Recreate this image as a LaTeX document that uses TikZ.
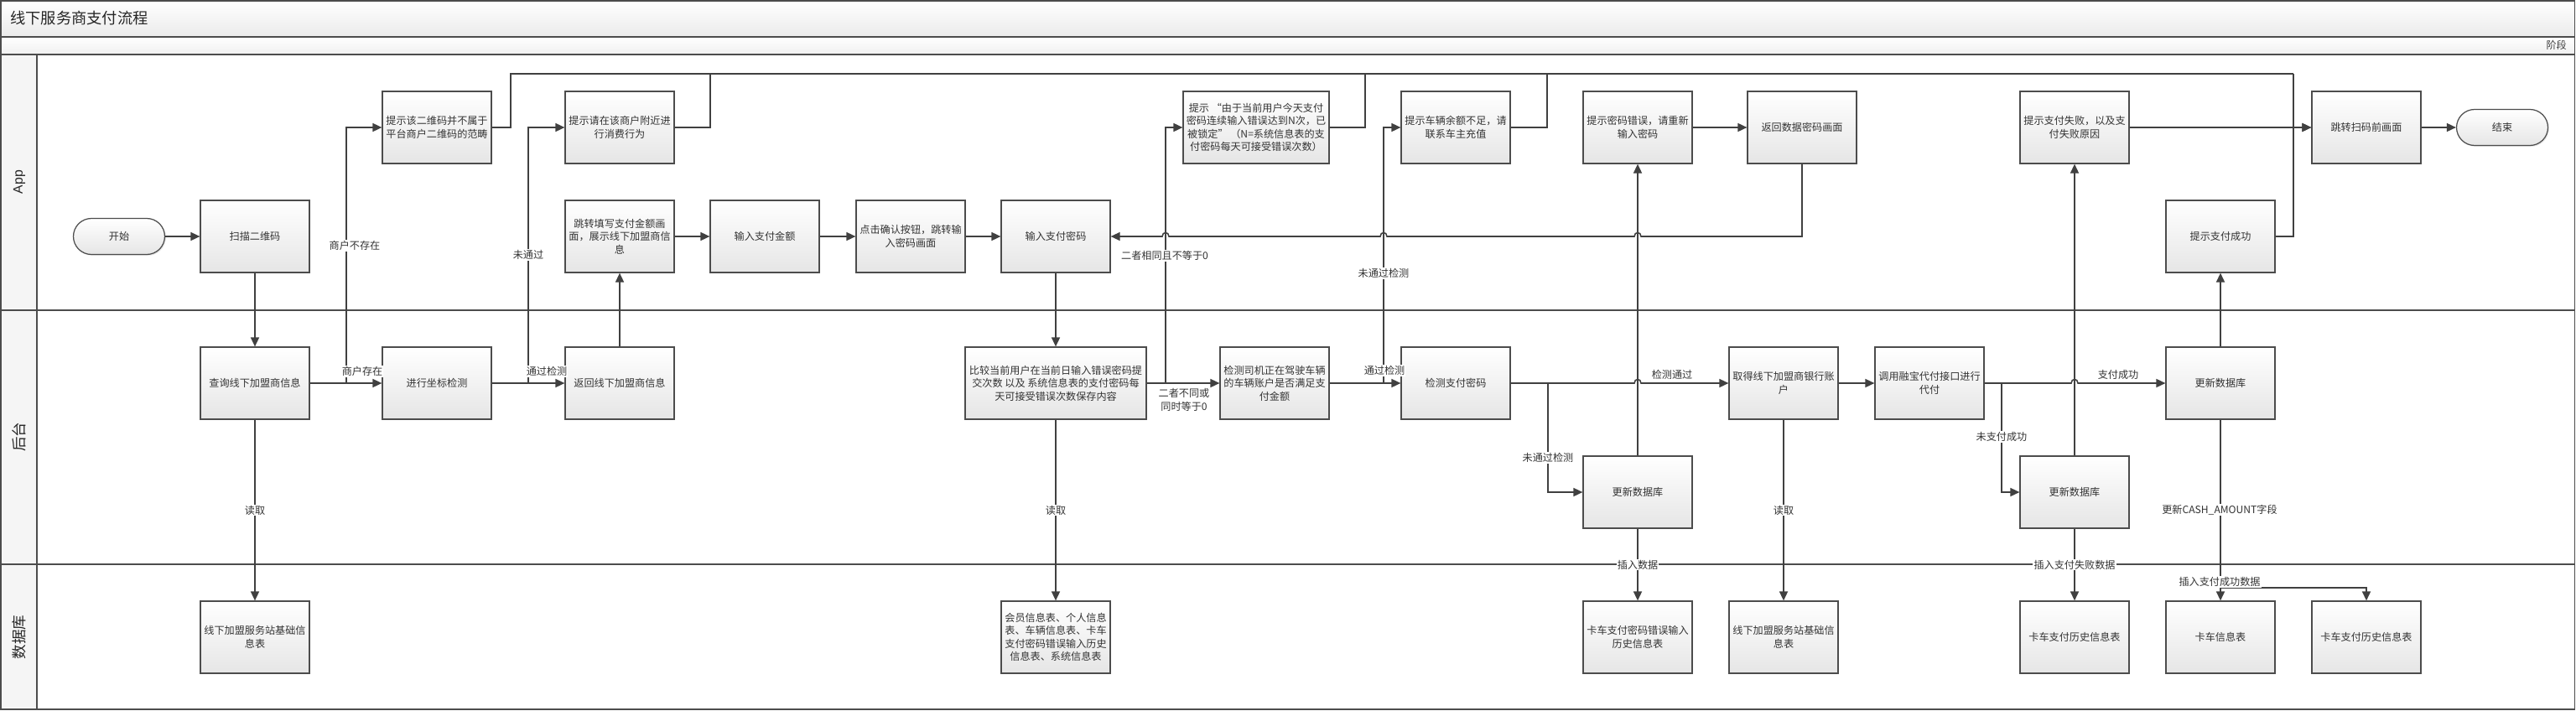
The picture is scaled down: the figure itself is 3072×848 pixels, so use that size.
\documentclass[tikz,border=0pt]{standalone}
\usepackage{fontspec}
\setmainfont{Noto Sans CJK SC}
\newfontfamily\lanesans{Liberation Sans}
\usetikzlibrary{arrows.meta,shadows}
\newcommand{\bxfont}{\fontsize{6.9pt}{8.8pt}\selectfont}
\tikzset{
	procbox/.style={draw=black!70, line width=0.7pt, top color=white, bottom color=black!10, text=black!80,
		minimum width=2.6cm, minimum height=1.72cm, align=center, inner sep=1pt, font=\bxfont,
		drop shadow={opacity=0.2, shadow xshift=0.8pt, shadow yshift=-0.8pt}},
	termbox/.style={procbox, rounded corners=0.43cm, minimum width=2.18cm, minimum height=0.86cm},
	flow/.style={draw=black!75, line width=0.9pt, -{Triangle[length=0.22cm, width=0.2cm]}},
	plain/.style={draw=black!75, line width=0.9pt},
	lbl/.style={fill=white, inner sep=0.6pt, text=black!80, font=\bxfont, align=center},
	lane/.style={draw=black!70, line width=0.6pt},
	hopr/.style args={#1/#2}{insert path={-- (#1-4,#2) .. controls (#1-4,#2-6) and (#1+4,#2-6) .. (#1+4,#2)}},
	hopl/.style args={#1/#2}{insert path={-- (#1+4,#2) .. controls (#1+4,#2-6) and (#1-4,#2-6) .. (#1-4,#2)}}
}

\begin{document}
\begin{tikzpicture}[x=0.02cm, y=-0.02cm]
	\useasboundingbox (0,0) rectangle (3072,848);
	% frame and lanes
	\shade[top color=white, bottom color=black!8] (1,1) rectangle (3070,44);
	\shade[top color=white, bottom color=black!6] (1,44) rectangle (3070,65);
	\fill[black!4] (1,65) rectangle (44,846);
	\draw[lane] (1,1) rectangle (3070,846);
	\draw[lane] (1,44) -- (3070,44);
	\draw[lane] (1,65) -- (3070,65);
	\draw[lane] (1,370) -- (3070,370);
	\draw[lane] (1,673) -- (3070,673);
	\draw[lane] (44,65) -- (44,846);
	\node[anchor=west, text=black!85, font=\fontsize{10.4pt}{12pt}\selectfont] (title) at (6,22) {线下服务商支付流程};
	\node[anchor=east, text=black!75, font=\bxfont] (phase) at (3067,54) {阶段};
	\node[rotate=90, text=black!85, font=\lanesans\fontsize{9pt}{10pt}\selectfont] (laneapp) at (23,217) {App};
	\node[rotate=90, text=black!85, font=\fontsize{10pt}{12pt}\selectfont] (laneback) at (23,521) {后台};
	\node[rotate=90, text=black!85, font=\fontsize{10pt}{12pt}\selectfont] (lanedb) at (23,760) {数据库};

	% App
	\node[termbox] (start) at (142,282) {开始};
	\node[procbox] (scan) at (304,282) {扫描二维码};
	\node[procbox] (notplat) at (521,152) {提示该二维码并不属于\\平台商户二维码的范畴};
	\node[procbox] (nearby) at (739,152) {提示请在该商户附近进\\行消费行为};
	\node[procbox] (fillamt) at (739,282) {跳转填写支付金额画\\面，展示线下加盟商信\\息};
	\node[procbox] (inamt) at (912,282) {输入支付金额};
	\node[procbox] (confirm) at (1086,282) {点击确认按钮，跳转输\\入密码画面};
	\node[procbox] (inpwd) at (1259,282) {输入支付密码};
	\node[procbox, minimum width=3.48cm] (locked) at (1498,152) {提示 “由于当前用户今天支付\\密码连续输入错误达到N次，已\\被锁定” （N=系统信息表的支\\付密码每天可接受错误次数）};
	\node[procbox] (lowbal) at (1736,152) {提示车辆余额不足，请\\联系车主充值};
	\node[procbox] (pwderr) at (1953,152) {提示密码错误，请重新\\输入密码};
	\node[procbox] (backpwd) at (2149,152) {返回数据密码画面};
	\node[procbox] (payfail) at (2474,152) {提示支付失败，以及支\\付失败原因};
	\node[procbox] (jumpscan) at (2822,152) {跳转扫码前画面};
	\node[termbox] (end) at (2984,152) {结束};
	\node[procbox] (paysucc) at (2648,282) {提示支付成功};

	% 后台
	\node[procbox] (query) at (304,457) {查询线下加盟商信息};
	\node[procbox] (coord) at (521,457) {进行坐标检测};
	\node[procbox] (retinfo) at (739,457) {返回线下加盟商信息};
	\node[procbox, minimum width=4.32cm] (compare) at (1259,457) {比较当前用户在当前日输入错误密码提\\交次数 以及 系统信息表的支付密码每\\天可接受错误次数保存内容};
	\node[procbox] (chkbal) at (1520,457) {检测司机正在驾驶车辆\\的车辆账户是否满足支\\付金额};
	\node[procbox] (chkpwd) at (1736,457) {检测支付密码};
	\node[procbox] (upd1) at (1953,587) {更新数据库};
	\node[procbox] (bankacc) at (2127,457) {取得线下加盟商银行账\\户};
	\node[procbox] (daifu) at (2301,457) {调用融宝代付接口进行\\代付};
	\node[procbox] (upd2) at (2474,587) {更新数据库};
	\node[procbox] (upd3) at (2648,457) {更新数据库};

	% 数据库
	\node[procbox] (db1) at (304,760) {线下加盟服务站基础信\\息表};
	\node[procbox] (dbmem) at (1259,760) {会员信息表、个人信息\\表、车辆信息表、卡车\\支付密码错误输入历史\\信息表、系统信息表};
	\node[procbox] (dberr) at (1953,760) {卡车支付密码错误输入\\历史信息表};
	\node[procbox] (db2) at (2127,760) {线下加盟服务站基础信\\息表};
	\node[procbox] (dbfail) at (2474,760) {卡车支付历史信息表};
	\node[procbox] (dbtruck) at (2648,760) {卡车信息表};
	\node[procbox] (dbhist) at (2822,760) {卡车支付历史信息表};

	% branch points
	\coordinate (j1) at (413,457);
	\coordinate (j2) at (630,457);
	\coordinate (j3) at (1390,457);
	\coordinate (j4) at (1650,457);
	\coordinate (j5) at (1846,457);
	\coordinate (j6) at (2387,457);
	\coordinate (j7) at (2648,701);
	\coordinate (busend) at (2735,88);
	\coordinate (retcorner) at (backpwd.south |- inpwd.east);

	% back to the scan page
	\draw[plain] (notplat.east) -| (609,88) -- (busend);
	\draw[plain] (nearby.east) -| (847,88);
	\draw[plain] (locked.east) -| (1628,88);
	\draw[plain] (lowbal.east) -| (1845,88);
	\draw[plain] (paysucc.east) -| (busend);
	\draw[flow] (busend) |- (jumpscan.west);
	\draw[flow] (payfail) -- (jumpscan);
	\draw[flow] (jumpscan) -- (end);

	\draw[flow] (start) -- (scan);
	\draw[flow] (scan) -- (query);
	\draw[flow] (query) -- node[lbl] {读取} (db1);
	\draw[flow] (query) -- (coord);
	\draw[flow] (j1) |- (notplat.west);
	\draw[flow] (coord) -- (retinfo);
	\draw[flow] (j2) |- (nearby.west);
	\draw[flow] (retinfo) -- (fillamt);
	\draw[flow] (fillamt) -- (inamt);
	\draw[flow] (inamt) -- (confirm);
	\draw[flow] (confirm) -- (inpwd);
	\draw[flow] (inpwd) -- (compare);
	\draw[flow] (compare) -- node[lbl] {读取} (dbmem);
	\draw[flow] (compare) -- (chkbal);
	\draw[flow] (j3) |- (locked.west);
	\draw[flow] (chkbal) -- (chkpwd);
	\draw[flow] (j4) |- (lowbal.west);
	\draw[flow] (chkpwd.east) [hopr=1953/457] -- (bankacc.west);
	\draw[flow] (j5) |- (upd1.west);
	\draw[flow] (upd1) -- (pwderr);
	\draw[flow] (upd1) -- node[lbl] {插入数据} (dberr);
	\draw[flow] (pwderr) -- (backpwd);
	\draw[flow] (backpwd.south) -- (retcorner) [hopl=1953/282] [hopl=1650/282] [hopl=1390/282] -- (inpwd.east);
	\draw[flow] (bankacc) -- (daifu);
	\draw[flow] (bankacc) -- node[lbl] {读取} (db2);
	\draw[flow] (daifu.east) [hopr=2474/457] -- (upd3.west);
	\draw[flow] (j6) |- (upd2.west);
	\draw[flow] (upd2) -- (payfail);
	\draw[flow] (upd2) -- node[lbl] {插入支付失败数据} (dbfail);
	\draw[flow] (upd3) -- (paysucc);
	\draw[flow] (upd3) -- (dbtruck);
	\draw[flow] (j7) -| (dbhist.north);

	% labels
	\node[lbl] (l1) at (432,443) {商户存在};
	\node[lbl] (l2) at (423,293) {商户不存在};
	\node[lbl] (l3) at (652,443) {通过检测};
	\node[lbl] (l4) at (630,304) {未通过};
	\node[lbl] (l5) at (1412,477) {二者不同或\\同时等于0};
	\node[lbl] (l6) at (1389,305) {二者相同且不等于0};
	\node[lbl] (l7) at (1651,442) {通过检测};
	\node[lbl] (l8) at (1650,326) {未通过检测};
	\node[lbl] (l9) at (1994,447) {检测通过};
	\node[lbl] (l10) at (1846,546) {未通过检测};
	\node[lbl] (l11) at (2526,447) {支付成功};
	\node[lbl] (l12) at (2387,521) {未支付成功};
	\node[lbl] (l13) at (2647,608) {更新CASH\_AMOUNT字段};
	\node[lbl] (l14) at (2647,694) {插入支付成功数据};
\end{tikzpicture}
\end{document}
